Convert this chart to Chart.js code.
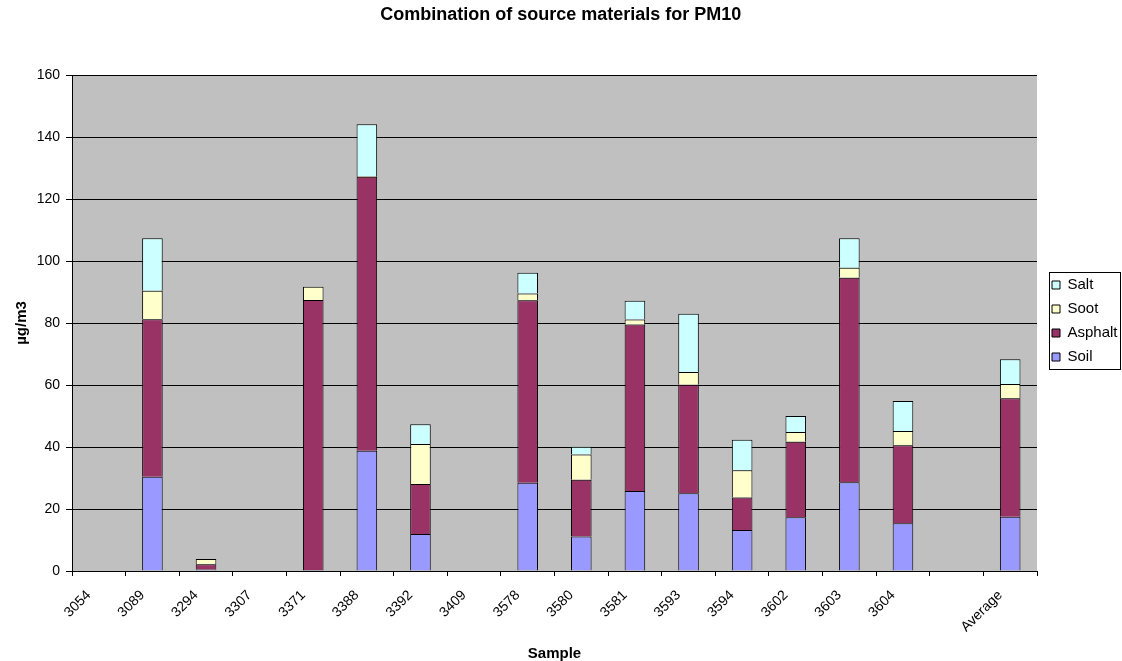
<!DOCTYPE html>
<html><head><meta charset="utf-8">
<script src="https://cdn.jsdelivr.net/npm/chart.js@4/dist/chart.umd.min.js"></script>
<style>html,body{margin:0;padding:0;background:#fff;}canvas{display:block;}</style>
</head><body>
<canvas id="c" width="1122" height="661"></canvas>
<script>
// ---- data ----
const categories = ['3054','3089','3294','3307','3371','3388','3392','3409','3578','3580','3581','3593','3594','3602','3603','3604','','Average'];
const soil    = [null,30.4,0.5,null,0.3,38.8,11.9,null,28.5,11.1,25.8,25.1,13.2,17.3,28.6,15.4,null,17.5];
const asphalt = [null,50.8,1.7,null,87.1,88.4,16.2,null,58.8,18.3,53.7,35.0,10.5,24.4,66.0,25.2,null,38.2];
const soot    = [null,9.2,1.7,null,4.3,0.2,12.9,null,2.2,8.2,1.6,4.1,8.8,3.1,3.2,4.6,null,4.6];
const salt    = [null,16.9,null,null,null,16.7,6.3,null,6.7,2.5,6.1,18.8,9.8,5.2,9.5,9.6,null,8.0];
const seriesNames = ['Soil','Asphalt','Soot','Salt'];
const yMin = 0, yMax = 160, yStep = 20;
const titleText = 'Combination of source materials for PM10';
const xTitle = 'Sample';
const yTitle = 'µg/m3';

// ---- layout / style ----
const FONT = '"Liberation Sans", Arial, sans-serif';
const PLOT_RIGHT = 1037;
const LEG_FONT = 15, LEG_PAD = 9, LEG_BOX = 8, LEG_X = 1052, LEG_DY = -2;

const colors = {Soil:'#9999FF', Asphalt:'#993366', Soot:'#FFFFCC', Salt:'#CCFFFF'};
const values = {Soil:soil, Asphalt:asphalt, Soot:soot, Salt:salt};

Chart.defaults.font.family = FONT;
Chart.defaults.color = '#000';

const helper = {
  id: 'helper',
  beforeDraw(chart) {
    const {ctx, chartArea: a} = chart;
    ctx.save();
    ctx.fillStyle = '#fff';
    ctx.fillRect(0, 0, chart.width, chart.height);
    ctx.fillStyle = '#C0C0C0';
    ctx.fillRect(a.left, a.top, a.right - a.left, a.bottom - a.top);
    ctx.restore();
  },
  afterLayout(chart) {
    const lg = chart.legend;
    const dx = LEG_X - (lg.left + LEG_PAD);
    lg.left += dx; lg.right += dx;
    lg.top += LEG_DY; lg.bottom += LEG_DY;
  },
  afterDraw(chart) {
    const lg = chart.legend;
    const hb = lg.legendHitBoxes;
    if (!hb || !hb.length) return;
    let l = Infinity, r = -Infinity, t = Infinity, b = -Infinity;
    hb.forEach(h => { l = Math.min(l, h.left); r = Math.max(r, h.left + h.width); t = Math.min(t, h.top); b = Math.max(b, h.top + h.height); });
    const ctx = chart.ctx;
    ctx.save();
    ctx.strokeStyle = '#000';
    ctx.lineWidth = 1;
    const x0 = Math.round(l - 3) + 0.5, y0 = Math.round(t - 6) + 0.5;
    const x1 = Math.min(Math.round(r + 2) + 0.5, chart.width - 1.5), y1 = Math.round(b + 4) + 0.5;
    ctx.strokeRect(x0, y0, x1 - x0, y1 - y0);
    ctx.restore();
  }
};

const chart = new Chart(document.getElementById('c'), {
  type: 'bar',
  data: {
    labels: categories,
    datasets: seriesNames.map(n => ({
      label: n,
      data: values[n],
      backgroundColor: colors[n],
      borderColor: '#000',
      borderWidth: 1,
      categoryPercentage: 0.8,
      barPercentage: 0.48
    }))
  },
  options: {
    responsive: false,
    animation: false,
    devicePixelRatio: 1,
    layout: {padding: {left: 0, right: 10, top: 0, bottom: 0}},
    plugins: {
      title: {
        display: true, text: titleText,
        font: {size: 18, weight: 'bold'},
        padding: {top: 4, bottom: 49.4}
      },
      legend: {
        position: 'right',
        fullSize: false,
        reverse: true,
        labels: {
          font: {size: LEG_FONT},
          boxWidth: LEG_BOX, boxHeight: LEG_BOX,
          padding: LEG_PAD,
          color: '#000'
        }
      },
      tooltip: {enabled: false}
    },
    scales: {
      x: {
        stacked: true,
        afterFit(s) { s.height = 90; },
        grid: {display: true, drawOnChartArea: false, drawTicks: true, tickLength: 5, color: '#000', offset: true},
        border: {display: true, color: '#000'},
        ticks: {autoSkip: false, maxRotation: 45, minRotation: 45, font: {size: 14}, padding: 11, labelOffset: -10, color: '#000'},
        title: {display: true, text: xTitle, font: {size: 15, weight: 'bold'}, padding: {top: 0, bottom: -2}}
      },
      y: {
        stacked: true,
        min: yMin, max: yMax,
        afterFit(s) { s.width = 72; },
        grid: {color: '#000', tickLength: 6, drawTicks: true},
        border: {display: true, color: '#000'},
        ticks: {stepSize: yStep, font: {size: 14}, padding: 6, color: '#000'},
        title: {display: true, text: yTitle, font: {size: 15, weight: 'bold'}, padding: {top: 13, bottom: 0}}
      }
    }
  },
  plugins: [helper]
});
// align plot right edge with the reference
const diff = chart.chartArea.right - PLOT_RIGHT;
if (Math.abs(diff) > 0.1) {
  chart.options.layout.padding.right += diff;
  chart.update();
}
</script>
</body></html>
